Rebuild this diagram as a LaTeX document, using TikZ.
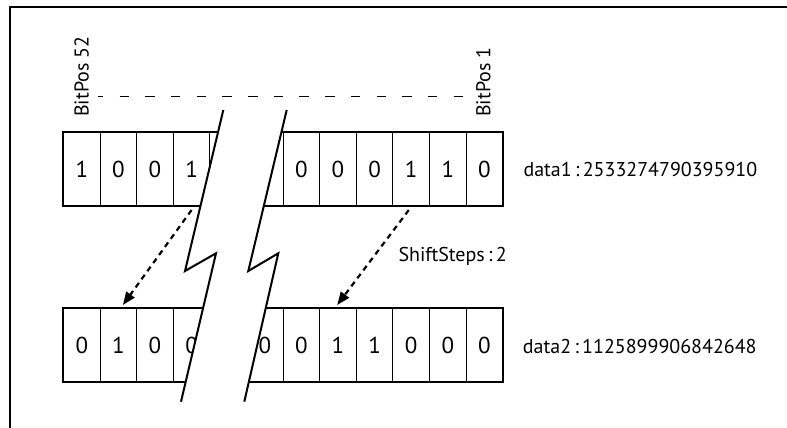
\documentclass[tikz,border=0pt]{standalone}
\usepackage{fontspec}
\setmainfont{PT Sans}
\usetikzlibrary{arrows.meta,calc}
\begin{document}
\begin{tikzpicture}[x=1pt,y=-1pt,
  cell/.style={draw,line width=1pt,minimum width=36.6pt,minimum height=73pt,inner sep=0pt,font=\fontsize{23}{27}\selectfont,anchor=west},
  lbl/.style={inner sep=0pt,font=\fontsize{20}{24}\selectfont},
  brk/.style={line width=2pt,line join=miter},
  shiftarrow/.style={line width=2.2pt,dash pattern=on 5.5pt off 4.5pt,-{Triangle[length=13pt,width=10pt]}}]
\useasboundingbox (0,0) rectangle (787,428);
\clip (0,0) rectangle (787,428);
\draw[line width=2.2pt] (10,7) rectangle (800,440);
% top row
\foreach \v [count=\i from 0] in {1,0,0,1,0,0,0,0,0,1,1,0}
  \node[cell] (t\i) at ({63+36.6*\i},169) {\v};
\draw[line width=2.2pt] (t0.north west) rectangle (t11.south east);
% bottom row
\foreach \v [count=\i from 0] in {0,1,0,0,0,0,0,1,1,0,0,0}
  \node[cell] (b\i) at ({63+36.6*\i},345) {\v};
\draw[line width=2.2pt] (b0.north west) rectangle (b11.south east);
% break
\fill[white] (223.3,110) -- (185,271) -- (216,253.3) -- (181,401.7) -- (244.3,401.7) -- (278.3,253.3) -- (248.3,271) -- (286.7,110) -- cycle;
\draw[brk] (223.3,110) -- (185,271) -- (216,253.3) -- (181,401.7);
\draw[brk] (286.7,110) -- (248.3,271) -- (278.3,253.3) -- (244.3,401.7);
% labels
\node[lbl,rotate=90,anchor=west] (bp52) at (81.7,117) {BitPos 52};
\node[lbl,rotate=90,anchor=west] (bp1) at (483.3,117) {BitPos 1};
\coordinate (dl) at (98.3,96.7);
\coordinate (dr) at (466,96.7);
\draw[line width=1.2pt,dash pattern=on 9.5pt off 16.2pt,dash phase=4.5pt] (dl) -- (dr);
\node[lbl,anchor=west] (d1) at (523.3,169) {data1\,:\,2533274790395910};
\node[lbl,anchor=west] (d2) at (522.7,346.7) {data2\,:\,1125899906842648};
\node[lbl,anchor=west] (ss) at (398.3,256.7) {ShiftSteps\,:\,2};
% arrows
\draw[shiftarrow] ($(t3.south)+(0,4)$) -- ($(b1.north)+(4.5,-3)$);
\draw[shiftarrow] ($(t9.south)+(-2.4,4)$) -- ($(b7.north)+(-0.8,-3)$);
\end{tikzpicture}
\end{document}
